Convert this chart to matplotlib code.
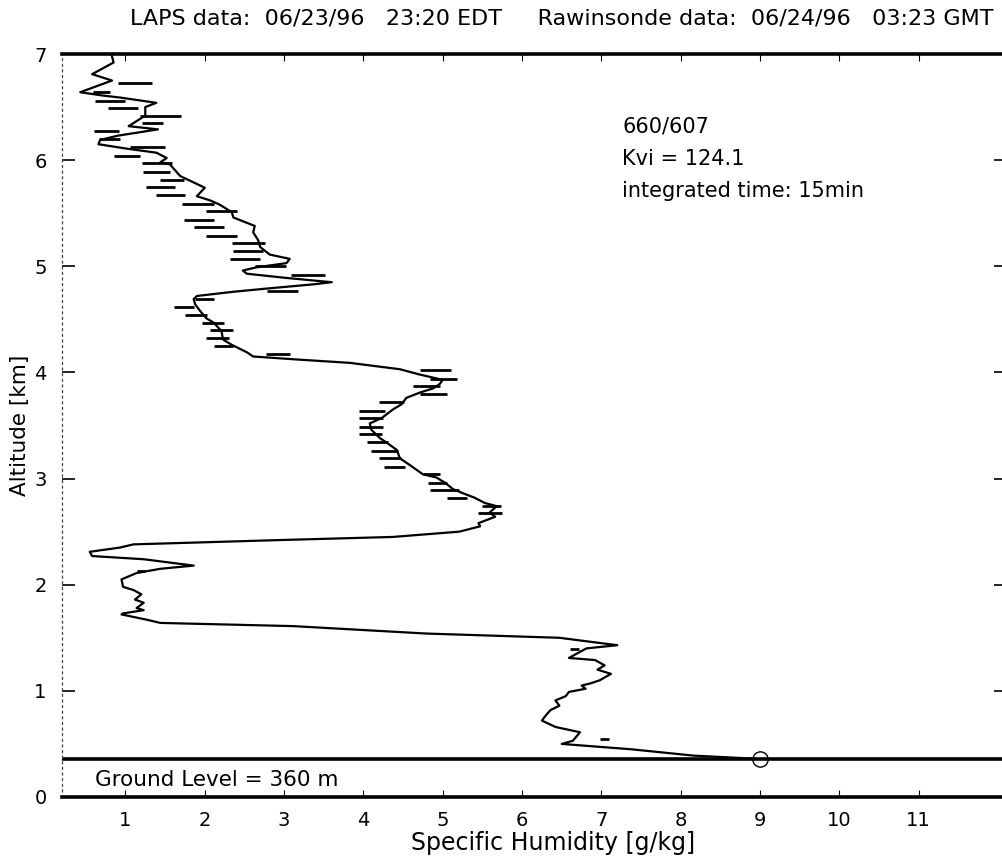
import matplotlib
matplotlib.use("Agg")
import matplotlib.pyplot as plt

plt.rcParams['font.family'] = ['DejaVu Sans']

# Rawinsonde specific humidity profile (g/kg) vs altitude (km)
sonde_q = [0.83, 0.85, 0.58, 0.83, 0.43, 0.70, 0.93, 1.39, 1.25, 1.25, 1.04, 1.41,
           0.90, 0.68, 0.66, 1.00, 1.39, 1.52, 1.44, 1.56, 1.69, 1.83, 2.00, 1.90,
           2.07, 2.19, 2.34, 2.36, 2.63, 2.61, 2.67, 2.70, 2.82, 3.07, 3.03, 2.65,
           2.48, 2.53, 3.03, 3.60, 3.37, 2.78, 2.36, 1.90, 1.86, 1.88, 1.94, 2.02,
           2.11, 2.21, 2.23, 2.34, 2.53, 2.61, 3.20, 3.83, 4.46, 4.71, 5.00, 4.96,
           4.88, 4.71, 4.54, 4.48, 4.37, 4.23, 4.08, 4.10, 4.21, 4.29, 4.42, 4.46,
           4.58, 4.75, 4.92, 5.03, 5.13, 5.26, 5.40, 5.53, 5.68, 5.59, 5.66, 5.45,
           5.47, 5.21, 4.37, 2.91, 1.10, 0.93, 0.55, 0.58, 1.23, 1.86, 1.44, 1.14,
           0.95, 0.97, 1.10, 1.20, 1.12, 1.23, 1.14, 1.23, 0.97, 0.95, 1.27, 1.44,
           3.11, 4.79, 6.47, 7.20, 6.81, 6.59, 6.92, 7.04, 6.95, 7.12, 6.98, 6.86,
           6.75, 6.80, 6.59, 6.55, 6.42, 6.47, 6.36, 6.30, 6.25, 6.42, 6.73, 6.64,
           6.50, 7.37, 8.16, 8.95]
sonde_alt = [6.98, 6.92, 6.81, 6.75, 6.64, 6.61, 6.59, 6.54, 6.50, 6.42, 6.32, 6.29,
             6.23, 6.19, 6.15, 6.11, 6.07, 6.02, 5.98, 5.96, 5.85, 5.80, 5.74, 5.66,
             5.62, 5.58, 5.51, 5.46, 5.38, 5.32, 5.25, 5.18, 5.11, 5.07, 5.03, 4.99,
             4.96, 4.93, 4.89, 4.85, 4.83, 4.79, 4.76, 4.72, 4.69, 4.64, 4.58, 4.51,
             4.47, 4.39, 4.31, 4.26, 4.19, 4.15, 4.12, 4.09, 4.03, 3.98, 3.93, 3.89,
             3.85, 3.81, 3.76, 3.70, 3.65, 3.57, 3.52, 3.46, 3.38, 3.34, 3.27, 3.19,
             3.13, 3.04, 3.01, 2.96, 2.90, 2.86, 2.82, 2.77, 2.74, 2.68, 2.64, 2.58,
             2.55, 2.50, 2.45, 2.42, 2.38, 2.35, 2.31, 2.27, 2.24, 2.18, 2.15, 2.11,
             2.05, 1.98, 1.95, 1.91, 1.86, 1.83, 1.78, 1.76, 1.73, 1.72, 1.67, 1.64,
             1.61, 1.54, 1.50, 1.43, 1.40, 1.31, 1.29, 1.24, 1.20, 1.16, 1.10, 1.07,
             1.05, 1.02, 0.99, 0.95, 0.91, 0.86, 0.82, 0.77, 0.72, 0.66, 0.61, 0.53,
             0.50, 0.45, 0.39, 0.36]

# LAPS lidar retrievals: altitude (km), humidity (g/kg), half-width of error bar
lidar_alt = [6.73, 6.64, 6.56, 6.49, 6.42, 6.35, 6.27, 6.20, 6.12, 6.04, 5.97, 5.89,
             5.81, 5.75, 5.67, 5.59, 5.52, 5.44, 5.37, 5.29, 5.22, 5.14, 5.07, 5.00,
             4.92, 4.77, 4.69, 4.62, 4.54, 4.47, 4.40, 4.32, 4.25, 4.17, 4.02, 3.94,
             3.87, 3.80, 3.72, 3.64, 3.57, 3.49, 3.42, 3.34, 3.26, 3.19, 3.11, 3.04,
             2.96, 2.89, 2.82, 2.74, 2.68, 2.13, 1.39, 0.55]
lidar_q = [1.12, 0.70, 0.81, 0.97, 1.44, 1.34, 0.76, 0.80, 1.28, 1.02, 1.40, 1.39,
           1.59, 1.44, 1.57, 1.91, 2.21, 1.93, 2.05, 2.21, 2.55, 2.54, 2.51, 2.83,
           3.30, 2.98, 2.00, 1.74, 1.89, 2.10, 2.21, 2.16, 2.24, 2.92, 4.91, 5.01,
           4.79, 4.88, 4.35, 4.11, 4.10, 4.10, 4.09, 4.18, 4.26, 4.33, 4.39, 4.86,
           4.93, 5.02, 5.18, 5.61, 5.60, 1.20, 6.66, 7.04]
lidar_err = [0.22, 0.11, 0.19, 0.19, 0.26, 0.13, 0.16, 0.13, 0.22, 0.16, 0.19, 0.17,
             0.15, 0.18, 0.18, 0.20, 0.19, 0.19, 0.19, 0.19, 0.21, 0.19, 0.19, 0.20,
             0.21, 0.20, 0.12, 0.13, 0.14, 0.14, 0.14, 0.14, 0.12, 0.15, 0.20, 0.17,
             0.17, 0.17, 0.16, 0.16, 0.15, 0.15, 0.14, 0.13, 0.17, 0.14, 0.13, 0.11,
             0.12, 0.18, 0.13, 0.12, 0.15, 0.05, 0.06, 0.06]

# Surface station value and ground level
surface_q = 9.0
ground_km = 0.36

x_ticks = [1, 2, 3, 4, 5, 6, 7, 8, 9, 10, 11]
y_ticks = [0, 1, 2, 3, 4, 5, 6, 7]

fig = plt.figure(figsize=(10.03, 8.58), dpi=100)
ax = fig.add_axes([62 / 1003, 61 / 858, 944 / 1003, 743 / 858])
ax.set_xlim(0.2, 12.1)
ax.set_ylim(0, 7)

ax.plot(sonde_q, sonde_alt, color='black', lw=1.6, solid_joinstyle='round')
ax.errorbar(lidar_q, lidar_alt, xerr=lidar_err, fmt='none', ecolor='black',
            elinewidth=2.0, capsize=0)
ax.axhline(ground_km, color='black', lw=2.6)
ax.plot([surface_q], [ground_km], marker='o', ms=11, mfc='none', mec='black', mew=1.0)

# Axes styling
for side in ('top', 'bottom'):
    ax.spines[side].set_linewidth(2.6)
ax.spines['left'].set_linewidth(0.9)
ax.spines['left'].set_linestyle((0, (1.5, 3)))
ax.spines['left'].set_color('#444444')
ax.spines['right'].set_linewidth(2.0)

ax.set_xticks(x_ticks)
ax.set_yticks(y_ticks)
ax.tick_params(axis='x', which='both', direction='in', length=5, width=0.8,
               top=True, bottom=True, labelsize=14, pad=10)
ax.tick_params(axis='y', which='both', direction='in', length=9, width=1.2,
               left=True, right=True, labelsize=14, pad=11)

ax.set_xlabel('Specific Humidity [g/kg]', fontsize=17)
ax.xaxis.set_label_coords(553 / 944 - 62 / 944, -46 / 743)
ax.xaxis.label.set_va('center')
ax.set_ylabel('Altitude [km]', fontsize=15.5)
ax.yaxis.set_label_coords(-42 / 944, 0.5)
ax.yaxis.label.set_va('center')

ax.text(0.62, 0.16, 'Ground Level = 360 m', fontsize=15.5, va='center', ha='left')
ax.text(7.26, 6.32, '660/607', fontsize=15, va='center', ha='left')
ax.text(7.26, 6.01, 'Kvi = 124.1', fontsize=15, va='center', ha='left')
ax.text(7.26, 5.71, 'integrated time: 15min', fontsize=15, va='center', ha='left')

fig.text(562 / 1003, 1 - 18 / 858,
         'LAPS data:  06/23/96   23:20 EDT     Rawinsonde data:  06/24/96   03:23 GMT',
         fontsize=16, ha='center', va='center')

fig.savefig('out.png', dpi=100)
